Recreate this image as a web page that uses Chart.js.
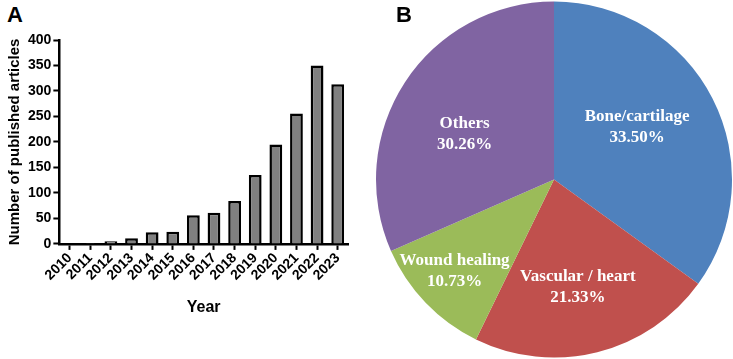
<!DOCTYPE html>
<html>
<head>
<meta charset="utf-8">
<script src="https://cdn.jsdelivr.net/npm/chart.js@4.4.1/dist/chart.umd.min.js"></script>
<style>
  body { margin: 0; background: #fff; width: 733px; height: 359px; position: relative; overflow: hidden; }
  .panel { position: absolute; font-family: "Liberation Sans", Arial, sans-serif; font-weight: bold; font-size: 22px; color: #000; }
  #barBox { position: absolute; left: 0; top: 0; width: 360px; height: 359px; }
  #pieBox { position: absolute; left: 375px; top: 0; width: 358px; height: 359px; }
</style>
</head>
<body>
<div class="panel" style="left:7px; top:2px;">A</div>
<div id="barBox"><canvas id="barChart"></canvas></div>
<div id="pieBox"><canvas id="pieChart"></canvas></div>
<div class="panel" style="left:396px; top:2px;">B</div>
<script>
// panel A data
const years = ['2010', '2011', '2012', '2013', '2014', '2015', '2016', '2017', '2018', '2019', '2020', '2021', '2022', '2023'];
const articleCounts = [1, 2, 5, 11, 23, 24, 56, 61, 84, 135, 195, 256, 350, 313];
const yTicks = [0, 50, 100, 150, 200, 250, 300, 350, 400];

// panel B data
const fields = ['Bone/cartilage', 'Vascular / heart', 'Wound healing', 'Others'];
const fieldShares = [33.50, 21.33, 10.73, 30.26];
const fieldColors = ['#4f81bd', '#c0504d', '#9bbb59', '#8064a2'];

const sansBold = { family: '"Liberation Sans", Arial, sans-serif', weight: 'bold' };

new Chart(document.getElementById('barChart'), {
    type: 'bar',
    data: {
        labels: years,
        datasets: [{
            data: articleCounts,
            backgroundColor: '#808080',
            borderColor: '#000',
            borderWidth: 2.5,
            barPercentage: 0.62,
            categoryPercentage: 1
        }]
    },
    options: {
        responsive: true,
        maintainAspectRatio: false,
        animation: false,
        layout: { padding: { top: 40, right: 12, left: 2, bottom: 38 } },
        plugins: { legend: { display: false }, tooltip: { enabled: false } },
        scales: {
            x: {
                grid: { display: true, drawOnChartArea: false, offset: false, tickLength: 6, tickWidth: 2, tickColor: '#000' },
                border: { color: '#000', width: 2.5 },
                ticks: { color: '#000', font: { ...sansBold, size: 14 }, autoSkip: false, maxRotation: 45, minRotation: 45, padding: 0 },
                title: { display: true, text: 'Year', color: '#000', font: { ...sansBold, size: 16 }, padding: { top: 14 } }
            },
            y: {
                min: 0,
                max: 400,
                afterBuildTicks: axis => { axis.ticks = yTicks.map(v => ({ value: v })); },
                grid: { display: true, drawOnChartArea: false, tickLength: 6, tickWidth: 2, tickColor: '#000' },
                border: { color: '#000', width: 2.5 },
                ticks: { color: '#000', font: { ...sansBold, size: 14 }, padding: 2 },
                title: { display: true, text: 'Number of published articles', color: '#000', font: { ...sansBold, size: 15 }, padding: { bottom: 2 } }
            }
        }
    }
});

// white two-line labels inside the slices
const radialPos = [0.6, 0.62, 0.72, 0.6];
const labelShift = [[-12, -4], [-3, 0], [-7, 2], [0, 13]];
const sliceLabels = {
    id: 'sliceLabels',
    afterDatasetsDraw(chart) {
        const ctx = chart.ctx;
        const meta = chart.getDatasetMeta(0);
        ctx.save();
        ctx.fillStyle = '#fff';
        ctx.font = 'bold 17px "Liberation Serif", "Times New Roman", serif';
        ctx.textAlign = 'center';
        ctx.textBaseline = 'middle';
        meta.data.forEach((arc, i) => {
            const mid = (arc.startAngle + arc.endAngle) / 2;
            const r = arc.outerRadius * radialPos[i];
            const x = arc.x + Math.cos(mid) * r + labelShift[i][0];
            const y = arc.y + Math.sin(mid) * r + labelShift[i][1];
            ctx.fillText(fields[i], x, y - 10);
            ctx.fillText(fieldShares[i].toFixed(2) + '%', x, y + 11);
        });
        ctx.restore();
    }
};

new Chart(document.getElementById('pieChart'), {
    type: 'pie',
    data: {
        labels: fields,
        datasets: [{
            data: fieldShares,
            backgroundColor: fieldColors,
            borderWidth: 0
        }]
    },
    options: {
        responsive: true,
        maintainAspectRatio: false,
        animation: false,
        layout: { padding: 1 },
        plugins: { legend: { display: false }, tooltip: { enabled: false } }
    },
    plugins: [sliceLabels]
});
</script>
</body>
</html>
